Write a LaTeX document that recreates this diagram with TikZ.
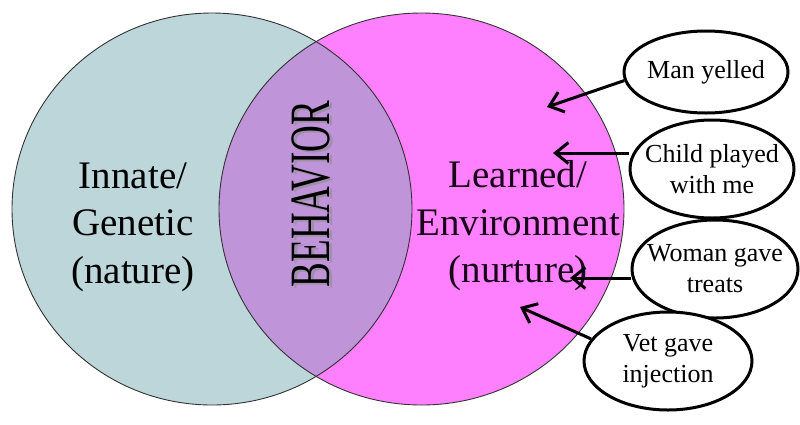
\documentclass[tikz,border=0pt]{standalone}
\usepackage{fontspec}
\setmainfont{Liberation Serif}
\usetikzlibrary{shapes.geometric,arrows.meta}
\definecolor{leftc}{RGB}{189,214,218}
\definecolor{rightc}{RGB}{255,128,255}
\definecolor{midc}{RGB}{191,148,216}
\definecolor{darktext}{RGB}{25,5,25}
\tikzset{
  big/.style={font=\fontsize{39}{47.5}\selectfont, align=center, inner sep=0pt},
  ev/.style={ellipse, draw=black, line width=3pt, fill=white, inner sep=0pt},
  evtext/.style={font=\fontsize{26}{31}\selectfont, align=center, inner sep=0pt},
  arr/.style={line width=3pt, -{Straight Barb[length=13pt,width=21pt,line width=3pt]}},
  rim/.style={draw=black!80, line width=0.9pt}
}
\begin{document}
\begin{tikzpicture}[x=1pt,y=-1pt]
\useasboundingbox (0,0) rectangle (800,424);
\fill[white] (0,0) rectangle (800,424);
% circles
\fill[leftc] (212,209) ellipse [x radius=200, y radius=196];
\fill[rightc] (421.5,209) ellipse [x radius=202.5, y radius=196];
\begin{scope}
  \clip (212,209) ellipse [x radius=200, y radius=196];
  \fill[midc] (421.5,209) ellipse [x radius=202.5, y radius=196];
\end{scope}
\draw[rim] (212,209) ellipse [x radius=200, y radius=196];
\draw[rim] (421.5,209) ellipse [x radius=202.5, y radius=196];
% texts
\node[big] (innate) at (133,227) {Innate/\\Genetic\\(nature)};
\node[big, text=darktext] (learned) at (518,226) {Learned/\\Environment\\(nurture)};
\node[inner sep=0pt, rotate=90, text=black!45, opacity=0.6, font=\fontsize{57}{60}\selectfont] (behshadow) at (314,196) {\scalebox{0.65}[1]{BEHAVIOR}};
\node[inner sep=0pt, rotate=90, font=\fontsize{57}{60}\selectfont] (beh) at (311,194) {\scalebox{0.65}[1]{BEHAVIOR}};
% ellipses
\node[ev, minimum width=164, minimum height=82] (e1) at (706,72) {};
\node[evtext] (t1) at (e1) {Man yelled};
\node[ev, minimum width=164, minimum height=98] (e2) at (712,169) {};
\node[evtext] (t2) at (e2) {Child played\\with me};
\node[ev, minimum width=166, minimum height=98] (e3) at (715,269) {};
\node[evtext] (t3) at (e3) {Woman gave\\treats};
\node[ev, minimum width=168, minimum height=98] (e4) at (668,361) {};
\node[evtext] (t4) at (e4) {Vet gave\\injection};
% arrow tips
\coordinate (p1) at (547,107);
\coordinate (p2) at (553,153);
\coordinate (p3) at (570,278);
\coordinate (p4) at (520,307);
\draw[arr] (e1.186) -- (p1);
\draw[arr] (e2.west |- p2) -- (p2);
\draw[arr] (e3.west |- p3) -- (p3);
\draw[arr] (e4.164) -- (p4);
\end{tikzpicture}
\end{document}
